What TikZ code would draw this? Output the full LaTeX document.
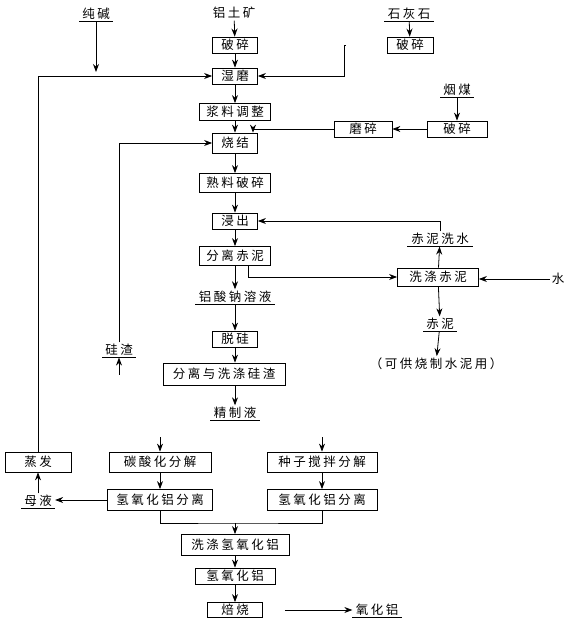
\documentclass[tikz,border=0pt]{standalone}
\usepackage{fontspec}
\setmainfont[LetterSpace=20]{Noto Sans CJK SC}
\usepackage{tikz}
\usetikzlibrary{arrows.meta}

\begin{document}
\begin{tikzpicture}[x=1pt,y=-1pt,>={Stealth[length=8pt,width=6pt]},line width=0.8pt]
    \tikzstyle{box}=[draw, inner sep=1pt, minimum height=16pt, font=\fontsize{12.5}{14}\selectfont]
    \tikzstyle{mat}=[inner xsep=3pt, inner ysep=1.5pt, font=\fontsize{12.5}{14}\selectfont]
    \tikzstyle{txt}=[inner sep=1.5pt, font=\fontsize{12.5}{14}\selectfont]
    \useasboundingbox (0,0) rectangle (581,626);

    % raw materials
    \node[mat, minimum width=30pt] (soda) at (96,13.5) {纯碱};
    \node[txt] (bauxite) at (234,13) {铝土矿};
    \node[mat, minimum width=44pt] (lime) at (409,13.5) {石灰石};
    \node[mat, minimum width=32pt] (coal) at (457,89.5) {烟煤};

    % main line
    \node[box, minimum width=45pt] (crush1) at (235,45) {破碎};
    \node[box, minimum width=46pt] (crush2) at (410,45) {破碎};
    \node[box, minimum width=45pt] (wetmill) at (235,76) {湿磨};
    \node[box, minimum width=71pt, minimum height=17pt] (slurry) at (235,112) {浆料调整};
    \node[box, minimum width=60pt] (crush3) at (457,129) {破碎};
    \node[box, minimum width=58pt] (grind) at (363,129) {磨碎};
    \node[box, minimum width=45pt, minimum height=20pt] (sinter) at (235,143) {烧结};
    \node[box, minimum width=71pt, minimum height=19pt] (clinker) at (235,183) {熟料破碎};
    \node[box, minimum width=45pt] (leach) at (235,221) {浸出};
    \node[box, minimum width=71pt, minimum height=19pt] (sepmud) at (235,256) {分离赤泥};
    \node[mat, minimum width=73pt] (aluminate) at (235,297) {铝酸钠溶液};
    \node[box, minimum width=45pt] (desil) at (235,339) {脱硅};
    \node[box, minimum width=122pt, minimum height=22pt] (sepsi) at (224,374) {分离与洗涤硅渣};
    \node[mat, minimum width=32pt] (sislag) at (119,350) {硅渣};
    \node[mat, minimum width=45pt] (refined) at (235,413) {精制液};

    % red mud
    \node[mat, minimum width=65pt] (washwater) at (440,239) {赤泥洗水};
    \node[box, minimum width=81pt, minimum height=18pt] (washmud) at (438,277) {洗涤赤泥};
    \node[txt] (water) at (558,279) {水};
    \node[mat, minimum width=32pt] (redmud) at (440,324) {赤泥};
    \node[txt] (cement) at (436,364) {（可供烧制水泥用）};

    % decomposition
    \node[box, minimum width=66pt, minimum height=20pt] (evap) at (38,462) {蒸发};
    \node[box, minimum width=102pt, minimum height=20pt] (carb) at (160,462) {碳酸化分解};
    \node[box, minimum width=110pt, minimum height=20pt] (seed) at (322,462) {种子搅拌分解};
    \node[mat, minimum width=32pt] (mother) at (38,501) {母液};
    \node[box, minimum width=105pt, minimum height=21pt] (sepA) at (160,500) {氢氧化铝分离};
    \node[box, minimum width=110pt, minimum height=21pt] (sepB) at (322,500) {氢氧化铝分离};
    \node[box, minimum width=108pt, minimum height=21pt] (washAH) at (235,545) {洗涤氢氧化铝};
    \node[box, minimum width=80pt] (ah) at (235,576) {氢氧化铝};
    \node[box, minimum width=55pt, minimum height=15pt] (calc) at (235,610) {焙烧};
    \node[mat, minimum width=42pt] (alumina) at (377,610) {氧化铝};

    % underlines
    \foreach \m in {soda,lime,coal,aluminate,sislag,refined,washwater,redmud,mother,alumina}
      \fill ([yshift=-0.5pt]\m.south west) rectangle ([yshift=0.5pt]\m.south east);

    \coordinate (carbin) at (160,437);
    \coordinate (seedin) at (322,437);
    \coordinate (jn) at (235,523);

    \draw[->, shorten >=4pt] (soda) -- (soda |- wetmill);
    \draw[->] (evap.north) |- (wetmill.west);
    \draw[->] (bauxite) -- (crush1);
    \draw[->] (crush1) -- (wetmill);
    \draw[->] (lime) -- (crush2);
    \draw[->, shorten <=41pt] (crush2.west) -- ++(-42,0) |- (wetmill.east);
    \draw[->] (wetmill) -- (slurry);
    \draw[->] (slurry) -- (sinter);
    \draw[->] (coal) -- (crush3);
    \draw[->] (crush3) -- (grind);
    \draw[->] (grind.west) -| ([xshift=18pt]sinter.north);
    \draw[->] (sislag.north) |- (sinter.west);
    \draw[->] (sinter) -- (clinker);
    \draw[->] (clinker) -- (leach);
    \draw[->] (leach) -- (sepmud);
    \draw[->] (sepmud) -- (aluminate);
    \draw[->] ([xshift=13pt]sepmud.south) |- (washmud.west);
    \draw[->] (washmud) -- (washwater);
    \draw[->] (washwater.north) |- (leach.east);
    \draw[->] (water) -- (water -| washmud.east);
    \draw[->] (washmud) -- (redmud);
    \draw[->] (redmud) -- (cement);
    \draw[->] (aluminate) -- (desil);
    \draw[->] (desil) -- (desil |- sepsi.north);
    \draw[->, shorten <=43pt] (sepsi.west) -| (sislag.south);
    \draw[->] (refined |- sepsi.south) -- (refined);
    \draw[->] (carbin) -- (carb);
    \draw[->] (seedin) -- (seed);
    \draw[->] (carb) -- (sepA);
    \draw[->] (seed) -- (sepB);
    \draw[->] (sepA.west) -- (mother.east |- sepA.west);
    \draw[->] (mother) -- (evap);
    \draw (sepA.south) |- (jn) -| (sepB.south);
    \draw[->] (jn) -- (washAH);
    \draw[->] (washAH) -- (ah);
    \draw[->] (ah) -- (calc);
    \draw[->, shorten <=22pt] (calc) -- (alumina);
\end{tikzpicture}
\end{document}
